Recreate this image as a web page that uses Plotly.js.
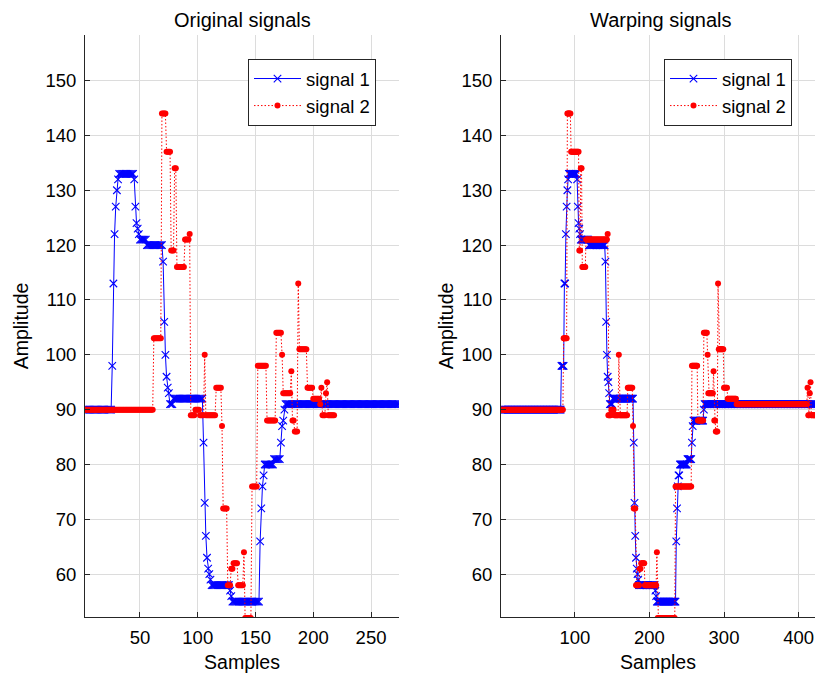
<!DOCTYPE html>
<html>
<head>
<meta charset="utf-8">
<script src="https://cdn.plot.ly/plotly-3.0.1.min.js"></script>
<style>
html,body{margin:0;padding:0;background:#fff;overflow:hidden}
#chart{width:816px;height:676px}
</style>
</head>
<body>
<div id="chart"></div>
<script>
// ---- Data (run-length encoded: value, number of consecutive samples) ----
// Original signal 1
const sig1Values = [90,98,113,122,127,130,132,133,132,127,124,123,122,121,120,117,106,100,96,94,93,91,92,84,73,67,63,61,60,59,58,57,56,55,66,72,76,78,80,81,84,87,88,90,91];
const sig1Counts = [25,1,1,1,1,1,1,13,1,1,1,1,1,6,14,1,1,1,1,1,1,3,26,1,1,1,1,1,1,1,16,1,1,24,1,1,1,1,8,6,1,1,1,1,99];
// Original signal 2
const sig2Values = [90,103,144,137,119,134,116,121,122,89,90,89,100,89,94,87,72,58,61,62,58,64,52,76,98,88,104,100,93,97,88,86,113,101,94,92,91,94,89,93,95,89];
const sig2Counts = [61,7,4,4,3,2,7,4,1,4,4,4,1,9,5,1,4,3,2,4,5,1,6,5,8,8,5,1,7,1,2,3,1,7,5,6,1,1,3,1,1,6];
// Warped signal 1
const warp1Values = [90,98,113,122,127,130,132,133,132,127,124,123,122,121,120,117,106,100,96,95,93,91,92,84,73,67,63,61,60,59,58,57,56,55,66,72,76,78,80,81,84,87,88,90,91];
const warp1Counts = [81,4,2,1,1,1,1,11,1,1,1,1,1,11,22,1,1,1,1,1,1,4,28,1,1,1,1,1,1,1,22,1,1,26,1,1,1,2,10,6,1,1,14,1,149];
// Warped signal 2
const warp2Values = [90,103,144,137,119,134,116,121,122,89,90,89,100,89,94,87,72,58,61,62,58,64,52,76,98,88,104,100,93,97,88,86,113,101,94,92,91,94,89,93,95,89];
const warp2Counts = [84,5,5,11,2,2,5,29,1,4,4,6,1,11,7,1,3,5,2,5,16,1,24,22,8,8,5,1,7,1,2,3,1,7,5,12,95,1,2,1,1,6];

const yTicks = [60,70,80,90,100,110,120,130,140,150];
const xTicksLeft = [50,100,150,200,250];
const xTicksRight = [100,200,300,400];
const seriesNames = ['signal 1','signal 2'];
const panelTitles = ['Original signals','Warping signals'];

// ---- helpers ----
function expand(values, counts){
  const out = [];
  values.forEach((v,i)=>{ for(let c=0;c<counts[i];c++) out.push(v); });
  return out;
}
function sampleIndex(n){ return Array.from({length:n},(_,i)=>i+1); }

const s1 = expand(sig1Values, sig1Counts);
const s2 = expand(sig2Values, sig2Counts);
const w1 = expand(warp1Values, warp1Counts);
const w2 = expand(warp2Values, warp2Counts);

const FONT = 'Liberation Sans, Arial, Helvetica, sans-serif';
const FS = 18.5;
const FS_TITLE = 20;
const FS_AXT = 19.5;
const BLUE = '#0000ff', RED = '#ff0000';

function blueTrace(x,y,xa,ya,leg){
  return {x:x,y:y,type:'scatter',mode:'lines+markers',name:seriesNames[0],
    xaxis:xa,yaxis:ya,legend:leg,
    line:{color:BLUE,width:1},
    marker:{symbol:'x-thin',size:7.5,color:BLUE,line:{color:BLUE,width:1.1}},
    cliponaxis:true};
}
function redTrace(x,y,xa,ya,leg){
  return {x:x,y:y,type:'scatter',mode:'lines+markers',name:seriesNames[1],
    xaxis:xa,yaxis:ya,legend:leg,
    line:{color:RED,width:1,dash:'1.5px,2px'},
    marker:{symbol:'circle',size:6,color:RED,line:{width:0}},
    cliponaxis:true};
}

const traces = [
  blueTrace(sampleIndex(s1.length), s1, 'x','y','legend'),
  redTrace(sampleIndex(s2.length), s2, 'x','y','legend'),
  blueTrace(sampleIndex(w1.length), w1, 'x2','y2','legend2'),
  redTrace(sampleIndex(w2.length), w2, 'x2','y2','legend2')
];

const axisBase = {
  showline:true, linecolor:'#262626', linewidth:1,
  ticks:'inside', ticklen:5, tickcolor:'#262626', tickwidth:1,
  showgrid:true, gridcolor:'#dcdcdc', gridwidth:1,
  zeroline:false, mirror:false, fixedrange:true,
  tickfont:{family:FONT,size:FS,color:'#000'},
  ticklabelstandoff:4
};
const yRange = [52.2, 158.3];
const PW = 730;

const legendBase = {
  xanchor:'left', yanchor:'top', bgcolor:'#ffffff',
  bordercolor:'#262626', borderwidth:1,
  font:{family:FONT,size:FS,color:'#000'},
  itemwidth:47, tracegroupgap:0
};

const layout = {
  width:816, height:676,
  margin:{l:85,r:1,t:35,b:59,pad:0},
  paper_bgcolor:'#fff', plot_bgcolor:'#fff',
  font:{family:FONT,size:FS,color:'#000'},
  showlegend:true,
  xaxis:Object.assign({},axisBase,{domain:[0,314/PW],range:[2.4,274.2],tickvals:xTicksLeft,anchor:'y',
    title:{text:'Samples',standoff:8,font:{family:FONT,size:FS_AXT,color:'#000'}}}),
  yaxis:Object.assign({},axisBase,{domain:[0,1],range:yRange,tickvals:yTicks,anchor:'x',
    title:{text:'Amplitude',standoff:11,font:{family:FONT,size:FS_AXT,color:'#000'}}}),
  xaxis2:Object.assign({},axisBase,{domain:[416/PW,1],range:[1,422],tickvals:xTicksRight,anchor:'y2',
    title:{text:'Samples',standoff:8,font:{family:FONT,size:FS_AXT,color:'#000'}}}),
  yaxis2:Object.assign({},axisBase,{domain:[0,1],range:yRange,tickvals:yTicks,anchor:'x2',
    title:{text:'Amplitude',standoff:2,font:{family:FONT,size:FS_AXT,color:'#000'}}}),
  legend:Object.assign({},legendBase,{x:(248-85)/PW,y:(617-59)/582}),
  legend2:Object.assign({},legendBase,{x:(664-85)/PW,y:(617-59)/582}),
  annotations:[
    {text:panelTitles[0],xref:'paper',yref:'paper',x:(242-85)/PW,y:(617-20)/582,xanchor:'center',yanchor:'middle',showarrow:false,font:{family:FONT,size:FS_TITLE,color:'#000'}},
    {text:panelTitles[1],xref:'paper',yref:'paper',x:(661-85)/PW,y:(617-20)/582,xanchor:'center',yanchor:'middle',showarrow:false,font:{family:FONT,size:FS_TITLE,color:'#000'}}
  ]
};

Plotly.newPlot('chart', traces, layout, {displayModeBar:false, staticPlot:true});
</script>
</body>
</html>
